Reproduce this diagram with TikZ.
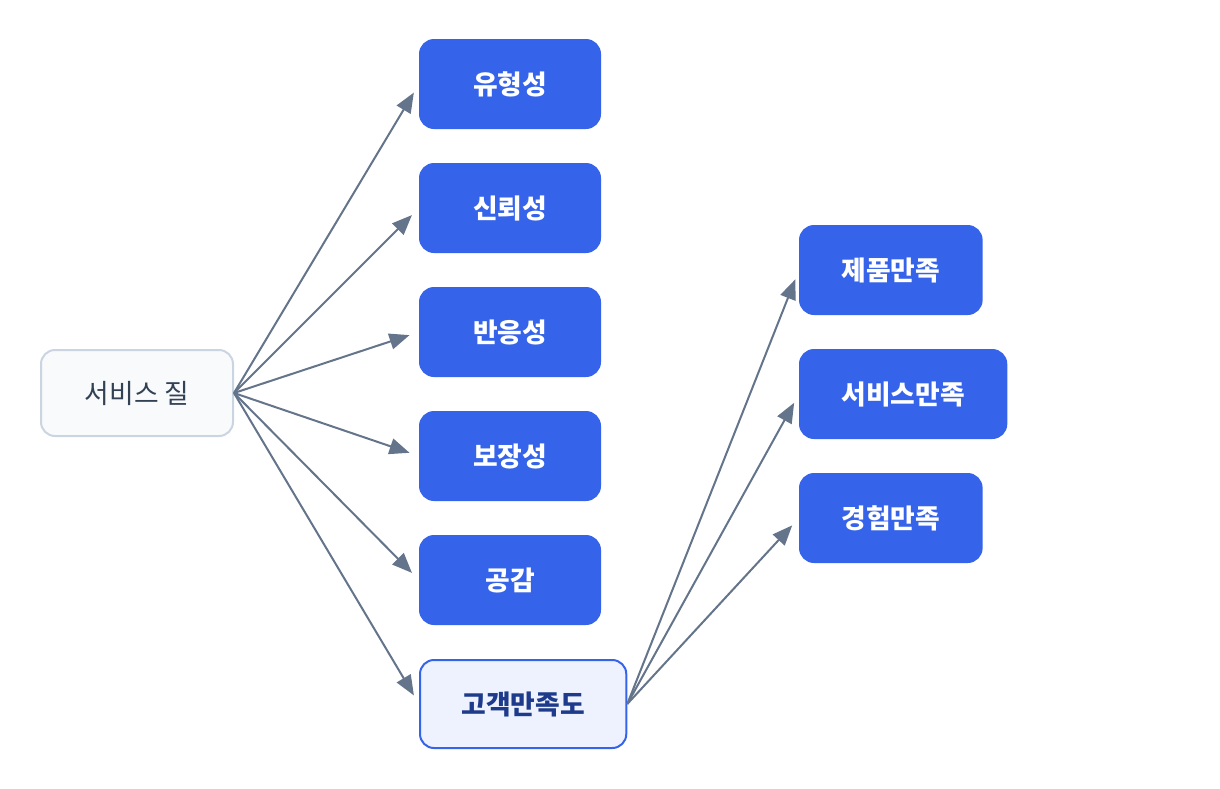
\documentclass[tikz,border=0pt]{standalone}
\usepackage{fontspec}
\setmainfont{Noto Sans CJK KR}
\usetikzlibrary{arrows.meta,positioning}

\definecolor{factorblue}{HTML}{3563E9}
\definecolor{rootfill}{HTML}{F8FAFC}
\definecolor{rootline}{HTML}{CBD5E1}
\definecolor{roottext}{HTML}{334155}
\definecolor{goalfill}{HTML}{EEF2FF}
\definecolor{goaltext}{HTML}{1E3A8A}
\definecolor{linkgray}{HTML}{64748B}

\tikzset{
  box/.style={rounded corners=7pt, minimum width=90pt, minimum height=44pt,
    inner xsep=20.75pt, font=\fontsize{13.4pt}{16pt}\selectfont, line width=1pt},
  root/.style={box, draw=rootline, fill=rootfill, text=roottext, minimum width=96pt, minimum height=43pt},
  factor/.style={box, draw=factorblue, fill=factorblue, text=white, font=\fontsize{13.4pt}{16pt}\selectfont\bfseries},
  goal/.style={box, draw=factorblue, fill=goalfill, text=goaltext, font=\fontsize{13.4pt}{16pt}\selectfont\bfseries},
  link/.style={draw=linkgray, line width=1pt, shorten >=5pt,
    -{Triangle[length=10pt,width=8pt]}}
}

\begin{document}
\begin{tikzpicture}[x=0.5pt,y=-0.5pt]
  \useasboundingbox (0,0) rectangle (1220,788);

  % Define nodes
  \node[root, anchor=west]   (sq)  at (40,393)  {서비스 질};
  \node[factor, anchor=west] (tan) at (419,84)  {유형성};
  \node[factor, below=17pt of tan.south west, anchor=north west] (rel) {신뢰성};
  \node[factor, below=17pt of rel.south west, anchor=north west] (res) {반응성};
  \node[factor, below=17pt of res.south west, anchor=north west] (ass) {보장성};
  \node[factor, below=17pt of ass.south west, anchor=north west] (emp) {공감};
  \node[goal, below=17pt of emp.south west, anchor=north west]   (cs)  {고객만족도};
  \node[factor, anchor=west] (prod) at (799,270) {제품만족};
  \node[factor, below=17pt of prod.south west, anchor=north west] (serv) {서비스만족};
  \node[factor, below=17pt of serv.south west, anchor=north west] (exp)  {경험만족};

  % Connect the nodes
  \foreach \t in {tan,rel,res,ass,emp,cs}
    \draw[link] (sq.east) -- (\t.west);
  \foreach \t in {prod,serv,exp}
    \draw[link] (cs.east) -- (\t.west);

\end{tikzpicture}
\end{document}
